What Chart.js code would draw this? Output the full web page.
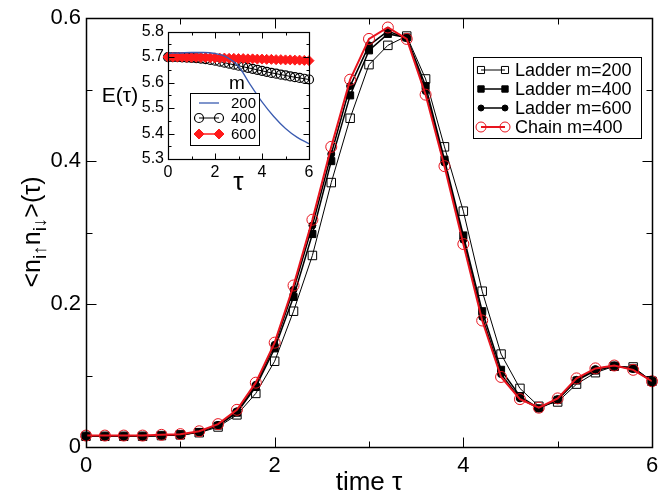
<!DOCTYPE html>
<html>
<head>
<meta charset="utf-8">
<script src="https://cdn.jsdelivr.net/npm/chart.js@4.4.1/dist/chart.umd.min.js"></script>
<style>
  html, body { margin: 0; padding: 0; background: #fff; }
  #wrap { position: relative; width: 668px; height: 496px; }
  #mainChart { position: absolute; left: 0; top: 0; }
  #insetChart { position: absolute; left: 90px; top: 18px; }
</style>
</head>
<body>
<div id="wrap">
  <canvas id="mainChart" width="668" height="496"></canvas>
  <canvas id="insetChart" width="230" height="180"></canvas>
</div>
<script>
// main panel: double occupancy vs time
const tau = [0, 0.2, 0.4, 0.6, 0.8, 1.0, 1.2, 1.4, 1.6, 1.8, 2.0, 2.2, 2.4, 2.6, 2.8, 3.0,
  3.2, 3.4, 3.6, 3.8, 4.0, 4.2, 4.4, 4.6, 4.8, 5.0, 5.2, 5.4, 5.6, 5.8, 6.0];
const ladder200 = [0.015, 0.015, 0.015, 0.015, 0.016, 0.017, 0.020, 0.028, 0.045, 0.075, 0.120,
  0.190, 0.268, 0.370, 0.460, 0.535, 0.562, 0.575, 0.515, 0.420, 0.330, 0.218, 0.130, 0.082,
  0.057, 0.063, 0.088, 0.104, 0.113, 0.112, 0.092];
const ladder400 = [0.015, 0.015, 0.015, 0.015, 0.016, 0.017, 0.021, 0.030, 0.048, 0.084, 0.138,
  0.210, 0.298, 0.400, 0.492, 0.555, 0.578, 0.573, 0.505, 0.402, 0.296, 0.190, 0.108, 0.071,
  0.054, 0.066, 0.093, 0.107, 0.113, 0.110, 0.092];
const ladder600 = [0.015, 0.015, 0.015, 0.015, 0.016, 0.017, 0.021, 0.031, 0.050, 0.087, 0.143,
  0.220, 0.310, 0.410, 0.505, 0.562, 0.582, 0.572, 0.498, 0.398, 0.290, 0.182, 0.102, 0.068,
  0.054, 0.067, 0.094, 0.109, 0.114, 0.109, 0.092];
const chain400 = [0.016, 0.016, 0.016, 0.016, 0.017, 0.018, 0.022, 0.032, 0.052, 0.090, 0.146,
  0.226, 0.318, 0.420, 0.514, 0.571, 0.587, 0.571, 0.493, 0.393, 0.284, 0.177, 0.098, 0.067,
  0.055, 0.068, 0.096, 0.110, 0.114, 0.108, 0.092];
const xMajor = [0, 2, 4, 6];
const xMinor = [1, 3, 5];
const yMajor = [0, 0.2, 0.4, 0.6];
const yMinor = [0.1, 0.3, 0.5];

// inset: energy vs time
const insetTau200 = [0, 0.5, 1, 1.5, 2, 2.5, 3, 3.5, 4, 4.5, 5, 5.5, 6];
const energy200 = [5.715, 5.716, 5.718, 5.718, 5.714, 5.700, 5.664, 5.592, 5.524, 5.467, 5.420, 5.385, 5.360];
const insetTau = tau;
const energy400 = [5.700, 5.700, 5.700, 5.699, 5.698, 5.697, 5.696, 5.694, 5.692, 5.689, 5.686,
  5.682, 5.678, 5.674, 5.670, 5.666, 5.662, 5.658, 5.654, 5.650, 5.646, 5.642, 5.638, 5.635,
  5.631, 5.628, 5.624, 5.621, 5.618, 5.615, 5.612];
const energy600 = [5.700, 5.700, 5.700, 5.700, 5.699, 5.699, 5.699, 5.698, 5.698, 5.697, 5.697,
  5.696, 5.696, 5.695, 5.695, 5.694, 5.694, 5.693, 5.693, 5.692, 5.692, 5.691, 5.691, 5.690,
  5.690, 5.689, 5.689, 5.688, 5.688, 5.687, 5.686];
const insetXMajor = [0, 2, 4, 6];
const insetXMinor = [1, 3, 5];
const insetYMajor = [5.3, 5.4, 5.5, 5.6, 5.7, 5.8];
const insetYMinor = [5.35, 5.45, 5.55, 5.65, 5.75];

Chart.defaults.font.family = '"Liberation Sans", Arial, Helvetica, sans-serif';
Chart.defaults.color = "#000";

function pts(xs, ys) {
  return xs.map((x, i) => ({ x: x, y: ys[i] }));
}

function drawMarker(ctx, style, x, y, r, fill, stroke, bw) {
  if (!r) return;
  ctx.beginPath();
  if (style === "rect") {
    const h = r * Math.SQRT1_2;
    ctx.rect(x - h, y - h, 2 * h, 2 * h);
  } else if (style === "rectRot") {
    ctx.moveTo(x - r, y); ctx.lineTo(x, y - r); ctx.lineTo(x + r, y); ctx.lineTo(x, y + r);
    ctx.closePath();
  } else {
    ctx.arc(x, y, r, 0, Math.PI * 2);
  }
  ctx.fillStyle = fill;
  ctx.fill();
  ctx.lineWidth = bw;
  ctx.strokeStyle = stroke;
  ctx.stroke();
}

// box frame with inward ticks on all four sides
const frameTicks = {
  id: "frameTicks",
  afterDatasetsDraw(chart, args, o) {
    const { ctx, chartArea: a, scales } = chart;
    const L = Math.round(a.left) + 0.5, R = Math.round(a.right) + 0.5;
    const T = Math.round(a.top) + 0.5, B = Math.round(a.bottom) + 0.5;
    ctx.save();
    ctx.strokeStyle = "#000";
    ctx.lineWidth = o.lineWidth;
    ctx.strokeRect(L, T, R - L, B - T);
    ctx.lineWidth = 1;
    const seg = (x1, y1, x2, y2) => { ctx.beginPath(); ctx.moveTo(x1, y1); ctx.lineTo(x2, y2); ctx.stroke(); };
    const xs = (vals, len) => vals.forEach(v => {
      const p = Math.round(scales.x.getPixelForValue(v)) + 0.5;
      seg(p, B, p, B - len); seg(p, T, p, T + len);
    });
    const ys = (vals, len) => vals.forEach(v => {
      const p = Math.round(scales.y.getPixelForValue(v)) + 0.5;
      seg(L, p, L + len, p); seg(R, p, R - len, p);
    });
    xs(o.xMajor, o.major); xs(o.xMinor, o.minor);
    ys(o.yMajor, o.major); ys(o.yMinor, o.minor);
    ctx.restore();
  }
};

// boxed legend, line segment with a marker at each end
const boxLegend = {
  id: "boxLegend",
  afterDraw(chart, args, o) {
    const ctx = chart.ctx;
    ctx.save();
    ctx.fillStyle = "#fff";
    ctx.fillRect(o.x, o.y, o.w, o.h);
    ctx.strokeStyle = "#000";
    ctx.lineWidth = 1;
    ctx.strokeRect(o.x + 0.5, o.y + 0.5, o.w, o.h);
    if (o.title) {
      ctx.fillStyle = "#000";
      ctx.font = o.titleFont;
      ctx.textAlign = "center";
      ctx.textBaseline = "middle";
      ctx.fillText(o.title, o.titleX, o.titleY);
    }
    chart.data.datasets.forEach((ds, i) => {
      const y = o.rowY[i];
      ctx.strokeStyle = ds.borderColor;
      ctx.lineWidth = ds.borderWidth;
      ctx.beginPath(); ctx.moveTo(o.x1, y); ctx.lineTo(o.x2, y); ctx.stroke();
      const r = ds.legendRadius !== undefined ? ds.legendRadius : ds.pointRadius;
      [o.x1, o.x2].forEach(px => drawMarker(ctx, ds.pointStyle, px, y, r,
        ds.pointBackgroundColor, ds.pointBorderColor, ds.pointBorderWidth));
      ctx.fillStyle = ds.labelColor || "#000";
      ctx.font = o.font;
      ctx.textAlign = o.align || "left";
      ctx.textBaseline = "middle";
      ctx.fillText(ds.label, o.textX, y + 1);
    });
    ctx.restore();
  }
};

// y-axis title with subscripts, rotated
const mainYTitle = {
  id: "mainYTitle",
  afterDraw(chart) {
    const ctx = chart.ctx;
    const parts = [["<n", 25, 0], ["i\u2191", 19, 6], ["n", 25, 0], ["i\u2193", 19, 6], [">(\u03c4)", 25, 0]];
    const fam = Chart.defaults.font.family;
    let total = 0;
    parts.forEach(p => { ctx.font = p[1] + "px " + fam; total += ctx.measureText(p[0]).width; });
    ctx.save();
    ctx.translate(32, 232);
    ctx.rotate(-Math.PI / 2);
    ctx.fillStyle = "#000";
    ctx.textBaseline = "alphabetic";
    ctx.textAlign = "left";
    let x = -total / 2;
    parts.forEach(p => {
      ctx.font = p[1] + "px " + fam;
      ctx.fillText(p[0], x, 8 + p[2]);
      x += ctx.measureText(p[0]).width;
    });
    ctx.restore();
  }
};

const insetYTitle = {
  id: "insetYTitle",
  afterDraw(chart) {
    const ctx = chart.ctx;
    ctx.save();
    ctx.fillStyle = "#000";
    ctx.font = "21px " + Chart.defaults.font.family;
    ctx.textAlign = "center";
    ctx.textBaseline = "middle";
    ctx.fillText("E(\u03c4)", 30, 78);
    ctx.restore();
  }
};

new Chart(document.getElementById("mainChart"), {
  type: "line",
  data: {
    datasets: [
      {
        label: "Ladder m=200", data: pts(tau, ladder200), order: 3,
        borderColor: "#000", borderWidth: 1, pointStyle: "rect", pointRadius: 6,
        pointBackgroundColor: "rgba(0,0,0,0)", pointBorderColor: "#000", pointBorderWidth: 1,
        legendRadius: 5
      },
      {
        label: "Ladder m=400", data: pts(tau, ladder400), order: 2,
        borderColor: "#000", borderWidth: 1.5, pointStyle: "rect", pointRadius: 5,
        pointBackgroundColor: "#000", pointBorderColor: "#000", pointBorderWidth: 1,
        legendRadius: 4.5
      },
      {
        label: "Ladder m=600", data: pts(tau, ladder600), order: 1,
        borderColor: "#000", borderWidth: 1.5, pointStyle: "circle", pointRadius: 3.5,
        pointBackgroundColor: "#000", pointBorderColor: "#000", pointBorderWidth: 1,
        legendRadius: 3
      },
      {
        label: "Chain m=400", data: pts(tau, chain400), order: 0,
        borderColor: "#e8141e", borderWidth: 2, pointStyle: "circle", pointRadius: 5.5,
        pointBackgroundColor: "rgba(0,0,0,0)", pointBorderColor: "#e8141e", pointBorderWidth: 1,
        legendRadius: 5, labelColor: "#000"
      }
    ]
  },
  options: {
    responsive: false,
    animation: false,
    events: [],
    layout: { padding: { left: 0, right: 16, top: 16, bottom: 0 } },
    elements: { line: { tension: 0 } },
    datasets: { line: { clip: false } },
    plugins: {
      legend: { display: false },
      tooltip: { enabled: false },
      frameTicks: { lineWidth: 1.5, major: 10, minor: 6, xMajor, xMinor, yMajor, yMinor },
      boxLegend: {
        x: 473, y: 57, w: 168, h: 81, rowY: [70, 89, 108, 127],
        x1: 481, x2: 505, textX: 515, font: "18px " + Chart.defaults.font.family
      }
    },
    scales: {
      x: {
        type: "linear", min: 0, max: 6,
        grid: { display: false, drawTicks: false }, border: { display: false },
        ticks: { stepSize: 2, padding: 6, font: { size: 22 } },
        title: { display: true, text: "time \u03c4", font: { size: 26, lineHeight: 1 }, padding: { top: 0, bottom: 0 } },
        afterFit(s) { s.height = 49; }
      },
      y: {
        type: "linear", min: 0, max: 0.6,
        grid: { display: false, drawTicks: false }, border: { display: false },
        ticks: { stepSize: 0.2, padding: 5, font: { size: 22 } },
        afterFit(s) { s.width = 86; }
      }
    }
  },
  plugins: [frameTicks, boxLegend, mainYTitle]
});

new Chart(document.getElementById("insetChart"), {
  type: "line",
  data: {
    datasets: [
      {
        label: "200", data: pts(insetTau200, energy200), order: 0,
        borderColor: "#3a5bb0", borderWidth: 1.3, pointRadius: 0, cubicInterpolationMode: "monotone",
        pointStyle: "circle", pointBackgroundColor: "#3a5bb0", pointBorderColor: "#3a5bb0", pointBorderWidth: 0
      },
      {
        label: "400", data: pts(insetTau, energy400), order: 2,
        borderColor: "#000", borderWidth: 1, pointStyle: "circle", pointRadius: 4.5,
        pointBackgroundColor: "rgba(0,0,0,0)", pointBorderColor: "#000", pointBorderWidth: 1.2
      },
      {
        label: "600", data: pts(insetTau, energy600), order: 1,
        borderColor: "#ff1a1a", borderWidth: 1.5, pointStyle: "rectRot", pointRadius: 5,
        pointBackgroundColor: "#ff1a1a", pointBorderColor: "#ff1a1a", pointBorderWidth: 1
      }
    ]
  },
  options: {
    responsive: false,
    animation: false,
    events: [],
    layout: { padding: { left: 0, right: 11, top: 9, bottom: 0 } },
    datasets: { line: { clip: false } },
    plugins: {
      legend: { display: false },
      tooltip: { enabled: false },
      frameTicks: {
        lineWidth: 1.2, major: 6, minor: 3,
        xMajor: insetXMajor, xMinor: insetXMinor, yMajor: insetYMajor, yMinor: insetYMinor
      },
      boxLegend: {
        x: 100, y: 75, w: 69, h: 52, rowY: [85, 100, 116],
        x1: 109, x2: 129, textX: 141, font: "15px " + Chart.defaults.font.family,
        title: "m", titleX: 147, titleY: 66, titleFont: "19px " + Chart.defaults.font.family
      }
    },
    scales: {
      x: {
        type: "linear", min: 0, max: 6,
        grid: { display: false, drawTicks: false }, border: { display: false },
        ticks: { stepSize: 2, padding: 4, font: { size: 16 } },
        title: { display: true, text: "\u03c4", font: { size: 26, lineHeight: 1 }, padding: { top: 0, bottom: 2 } },
        afterFit(s) { s.height = 39; }
      },
      y: {
        type: "linear", min: 5.3, max: 5.8,
        grid: { display: false, drawTicks: false }, border: { display: false },
        ticks: { stepSize: 0.1, padding: 4, font: { size: 16 }, callback: v => v.toFixed(1) },
        afterFit(s) { s.width = 78; }
      }
    }
  },
  plugins: [frameTicks, boxLegend, insetYTitle]
});
</script>
</body>
</html>
